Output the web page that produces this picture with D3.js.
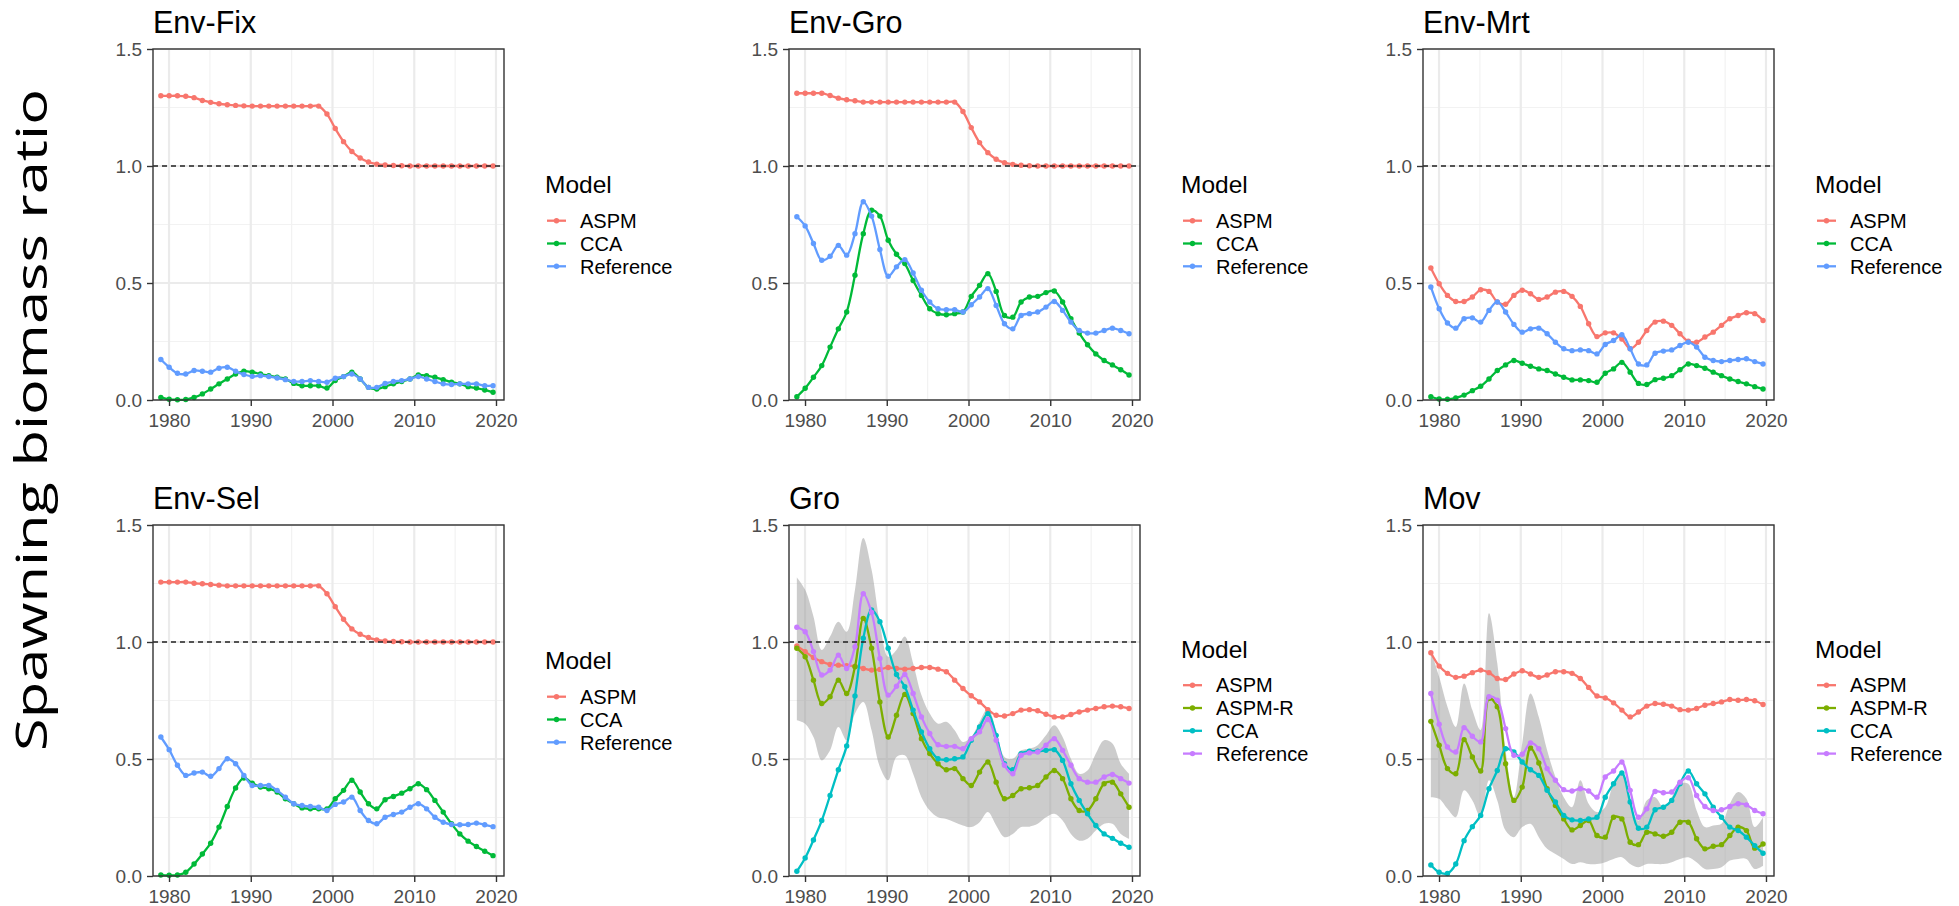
<!DOCTYPE html>
<html>
<head>
<meta charset="utf-8">
<script src="https://cdn.jsdelivr.net/npm/d3@7"></script>
<style>
    body { margin: 0; background: #fff; }
    svg { display: block; }
    .tick-label { font-family: 'Liberation Sans', Arial, sans-serif; font-size: 19px; fill: #4D4D4D; }
    .panel-title { font-family: 'Liberation Sans', Arial, sans-serif; font-size: 30.5px; fill: #000; }
    .legend-title { font-family: 'Liberation Sans', Arial, sans-serif; font-size: 24.5px; fill: #000; }
    .legend-label { font-family: 'Liberation Sans', Arial, sans-serif; font-size: 20px; fill: #000; }
    .y-title { font-family: 'Open Sans', sans-serif; font-size: 44px; fill: #000; }
</style>
</head>
<body>
<div id="chart"></div>
<script>
//Años (41 pasos, el último cae poco antes de 2020) y ejes
const years = d3.range(1979, 2020);
const stepYears = years.map(function(yr, i) { return 1979 + i * 1.016; });
const xTicks = [1980, 1990, 2000, 2010, 2020];
const xMinor = [1985, 1995, 2005, 2015];
const yTicks = [0, 0.5, 1.0, 1.5];
const yMinor = [0.25, 0.75, 1.25];

//Env-Fix
const envFixASPM = [1.300,1.300,1.300,1.298,1.292,1.280,1.272,1.266,1.262,1.259,
    1.257,1.256,1.256,1.256,1.256,1.256,1.256,1.256,1.256,1.256,
    1.222,1.160,1.104,1.062,1.034,1.017,1.008,1.004,1.002,1.001,
    1.000,1.000,1.000,1.000,1.000,1.000,1.000,1.000,1.000,1.000,1.000];
const envFixCCA = [0.011,0.003,0.001,0.002,0.011,0.026,0.047,0.069,0.090,0.111,
    0.123,0.119,0.111,0.104,0.097,0.090,0.071,0.061,0.061,0.061,
    0.051,0.083,0.100,0.119,0.090,0.054,0.047,0.057,0.069,0.079,
    0.090,0.107,0.104,0.097,0.087,0.076,0.069,0.057,0.051,0.043,0.033];
const envFixRef = [0.173,0.140,0.114,0.111,0.126,0.123,0.119,0.136,0.140,0.123,
    0.109,0.101,0.104,0.100,0.094,0.087,0.079,0.079,0.083,0.079,
    0.076,0.093,0.100,0.111,0.090,0.054,0.054,0.071,0.079,0.083,
    0.090,0.100,0.090,0.079,0.069,0.066,0.069,0.069,0.069,0.061,0.061];

//Env-Gro
const envGroASPM = [1.311,1.311,1.311,1.311,1.301,1.290,1.283,1.279,1.273,1.273,
    1.273,1.273,1.273,1.273,1.273,1.273,1.273,1.273,1.273,1.273,
    1.233,1.164,1.100,1.057,1.029,1.014,1.007,1.003,1.001,1.000,
    1.000,1.000,1.000,1.000,1.000,1.000,1.000,1.000,1.000,1.000,1.000];
const envGroCCA = [0.014,0.050,0.097,0.147,0.226,0.304,0.376,0.533,0.711,0.811,
    0.786,0.683,0.623,0.583,0.511,0.447,0.390,0.369,0.364,0.369,
    0.376,0.443,0.490,0.540,0.464,0.361,0.354,0.419,0.440,0.443,
    0.459,0.466,0.419,0.347,0.286,0.236,0.197,0.169,0.150,0.129,0.107];
const envGroRef = [0.783,0.744,0.669,0.597,0.614,0.661,0.619,0.711,0.847,0.786,
    0.643,0.529,0.569,0.600,0.543,0.469,0.419,0.390,0.386,0.386,
    0.376,0.407,0.440,0.476,0.404,0.326,0.304,0.361,0.369,0.376,
    0.397,0.421,0.383,0.333,0.297,0.286,0.286,0.297,0.307,0.297,0.283];

//Env-Mrt
const envMrtASPM = [0.564,0.497,0.447,0.421,0.421,0.440,0.471,0.464,0.419,0.409,
    0.447,0.469,0.454,0.430,0.440,0.461,0.464,0.443,0.400,0.326,
    0.271,0.287,0.287,0.261,0.219,0.247,0.297,0.333,0.337,0.319,
    0.283,0.251,0.247,0.269,0.290,0.319,0.347,0.361,0.373,0.369,0.340];
const envMrtCCA = [0.014,0.004,0.003,0.009,0.021,0.040,0.059,0.090,0.126,0.150,
    0.169,0.157,0.144,0.133,0.126,0.111,0.097,0.086,0.086,0.083,
    0.076,0.114,0.133,0.161,0.119,0.071,0.066,0.087,0.093,0.104,
    0.129,0.154,0.147,0.136,0.119,0.104,0.090,0.079,0.069,0.057,0.047];
const envMrtRef = [0.483,0.390,0.329,0.307,0.347,0.351,0.333,0.383,0.419,0.376,
    0.323,0.290,0.304,0.307,0.283,0.247,0.219,0.211,0.214,0.211,
    0.197,0.237,0.254,0.279,0.219,0.154,0.150,0.200,0.209,0.214,
    0.233,0.247,0.226,0.183,0.169,0.164,0.169,0.173,0.176,0.164,0.154];

//Env-Sel
const envSelASPM = [1.256,1.256,1.256,1.256,1.251,1.249,1.246,1.243,1.240,1.240,
    1.240,1.240,1.240,1.240,1.240,1.240,1.240,1.240,1.240,1.240,
    1.206,1.151,1.097,1.056,1.033,1.019,1.009,1.004,1.002,1.001,
    1.000,1.000,1.000,1.000,1.000,1.000,1.000,1.000,1.000,1.000,1.000];
const envSelCCA = [0.004,0.003,0.004,0.016,0.051,0.094,0.140,0.209,0.297,0.376,
    0.419,0.397,0.380,0.373,0.359,0.330,0.309,0.291,0.287,0.287,
    0.287,0.330,0.366,0.409,0.359,0.309,0.287,0.326,0.340,0.354,
    0.373,0.394,0.369,0.323,0.273,0.223,0.180,0.149,0.126,0.106,0.087];
const envSelRef = [0.594,0.540,0.473,0.430,0.440,0.444,0.426,0.459,0.501,0.480,
    0.430,0.387,0.387,0.387,0.366,0.337,0.309,0.301,0.297,0.294,
    0.280,0.306,0.316,0.337,0.280,0.237,0.223,0.251,0.263,0.273,
    0.294,0.309,0.287,0.251,0.230,0.220,0.219,0.220,0.226,0.219,0.211];

//Gro
const groASPM = [0.983,0.959,0.934,0.916,0.904,0.901,0.899,0.897,0.887,0.880,
    0.883,0.891,0.887,0.884,0.887,0.891,0.891,0.884,0.873,0.837,
    0.801,0.770,0.744,0.711,0.687,0.684,0.694,0.709,0.711,0.706,
    0.691,0.680,0.680,0.690,0.701,0.709,0.716,0.723,0.726,0.723,0.716];
const groASPMR = [0.973,0.937,0.837,0.737,0.766,0.837,0.780,0.894,1.101,0.973,
    0.744,0.594,0.687,0.776,0.694,0.587,0.523,0.480,0.454,0.459,
    0.416,0.387,0.444,0.487,0.401,0.330,0.344,0.373,0.377,0.387,
    0.423,0.451,0.416,0.330,0.280,0.280,0.330,0.394,0.401,0.351,0.294];
const groCCA = [0.020,0.077,0.154,0.237,0.344,0.454,0.556,0.769,1.016,1.137,
    1.087,0.973,0.861,0.809,0.709,0.616,0.544,0.501,0.497,0.501,
    0.509,0.580,0.637,0.694,0.601,0.480,0.454,0.523,0.533,0.533,
    0.537,0.540,0.494,0.394,0.323,0.266,0.216,0.180,0.161,0.140,0.123];
const groRef = [1.063,1.044,0.959,0.859,0.880,0.944,0.887,0.980,1.206,1.126,
    0.930,0.773,0.811,0.861,0.780,0.680,0.609,0.561,0.554,0.554,
    0.544,0.587,0.616,0.669,0.580,0.473,0.437,0.516,0.526,0.530,
    0.559,0.587,0.537,0.473,0.416,0.401,0.401,0.423,0.434,0.416,0.397];
const groLower = [0.666,0.651,0.594,0.494,0.537,0.637,0.580,0.694,0.744,0.623,
    0.466,0.409,0.509,0.516,0.437,0.337,0.280,0.251,0.244,0.230,
    0.216,0.209,0.230,0.273,0.216,0.166,0.180,0.209,0.211,0.223,
    0.251,0.266,0.237,0.180,0.151,0.159,0.194,0.223,0.223,0.180,0.159];
const groUpper = [1.276,1.223,1.109,0.966,1.023,1.087,1.044,1.223,1.444,1.309,
    1.080,0.937,0.966,1.023,0.909,0.773,0.694,0.651,0.659,0.623,
    0.573,0.594,0.659,0.716,0.623,0.509,0.501,0.537,0.544,0.559,
    0.601,0.644,0.594,0.501,0.437,0.451,0.523,0.580,0.566,0.480,0.437];

//Mov
const movASPM = [0.954,0.897,0.866,0.849,0.854,0.869,0.880,0.869,0.844,0.840,
    0.863,0.877,0.863,0.849,0.859,0.873,0.873,0.866,0.844,0.806,
    0.769,0.761,0.740,0.709,0.680,0.701,0.726,0.737,0.734,0.726,
    0.711,0.709,0.716,0.730,0.737,0.744,0.754,0.751,0.754,0.749,0.733];
const movASPMR = [0.661,0.559,0.459,0.437,0.583,0.509,0.449,0.759,0.723,0.480,
    0.323,0.380,0.547,0.483,0.373,0.301,0.244,0.197,0.216,0.237,
    0.173,0.166,0.251,0.244,0.144,0.134,0.187,0.180,0.170,0.187,
    0.230,0.230,0.159,0.116,0.127,0.134,0.173,0.209,0.194,0.119,0.137];
const movCCA = [0.047,0.016,0.011,0.051,0.151,0.211,0.259,0.373,0.451,0.544,
    0.530,0.487,0.454,0.430,0.366,0.316,0.259,0.240,0.237,0.244,
    0.251,0.337,0.394,0.440,0.316,0.204,0.209,0.283,0.294,0.323,
    0.394,0.449,0.394,0.351,0.294,0.251,0.209,0.194,0.166,0.130,0.097];
const movRef = [0.780,0.649,0.551,0.530,0.634,0.597,0.573,0.766,0.751,0.630,
    0.516,0.520,0.569,0.544,0.459,0.409,0.369,0.363,0.373,0.363,
    0.337,0.423,0.449,0.487,0.366,0.251,0.287,0.361,0.356,0.359,
    0.401,0.420,0.344,0.297,0.280,0.283,0.297,0.309,0.304,0.280,0.266];
const movLower = [0.337,0.330,0.287,0.251,0.366,0.323,0.251,0.409,0.323,0.194,
    0.166,0.209,0.223,0.166,0.116,0.094,0.073,0.051,0.059,0.051,
    0.051,0.059,0.073,0.080,0.051,0.037,0.051,0.051,0.051,0.059,
    0.073,0.080,0.059,0.030,0.030,0.037,0.066,0.073,0.073,0.030,0.044];
const movUpper = [0.966,0.851,0.723,0.637,0.823,0.709,0.623,1.123,0.909,0.537,
    0.337,0.566,0.780,0.680,0.537,0.423,0.337,0.294,0.409,0.309,
    0.273,0.294,0.394,0.437,0.309,0.237,0.323,0.337,0.294,0.337,
    0.394,0.394,0.280,0.209,0.216,0.223,0.309,0.359,0.330,0.209,0.251];

//Colores (paleta ggplot)
const colors3 = {'ASPM': '#F8766D', 'CCA': '#00BA38', 'Reference': '#619CFF'};
const colors4 = {'ASPM': '#F8766D', 'ASPM-R': '#7CAE00', 'CCA': '#00BFC4', 'Reference': '#C77CFF'};

let panels = [
    {title: 'Env-Fix', col: 0, row: 0, colors: colors3, series: [['ASPM', envFixASPM], ['CCA', envFixCCA], ['Reference', envFixRef]]},
    {title: 'Env-Gro', col: 1, row: 0, colors: colors3, series: [['ASPM', envGroASPM], ['CCA', envGroCCA], ['Reference', envGroRef]]},
    {title: 'Env-Mrt', col: 2, row: 0, colors: colors3, series: [['ASPM', envMrtASPM], ['CCA', envMrtCCA], ['Reference', envMrtRef]]},
    {title: 'Env-Sel', col: 0, row: 1, colors: colors3, series: [['ASPM', envSelASPM], ['CCA', envSelCCA], ['Reference', envSelRef]]},
    {title: 'Gro', col: 1, row: 1, colors: colors4, ribbon: [groLower, groUpper], series: [['ASPM', groASPM], ['ASPM-R', groASPMR], ['CCA', groCCA], ['Reference', groRef]]},
    {title: 'Mov', col: 2, row: 1, colors: colors4, ribbon: [movLower, movUpper], series: [['ASPM', movASPM], ['ASPM-R', movASPMR], ['CCA', movCCA], ['Reference', movRef]]}
];

//Dimensiones
let W = 1959, H = 906;
let colLeft = [153, 789, 1423],
    rowTop = [49, 525],
    pw = 351, ph = 351;

let svg = d3.select('#chart')
    .append('svg')
        .attr('width', W)
        .attr('height', H);

let x = d3.scaleLinear().domain([1978.04, 2020.98]).range([0, pw]);
let y = d3.scaleLinear().domain([0, 1.5]).range([ph, 0]);
let curve = d3.curveCatmullRom.alpha(0.5);

//Título eje y común
svg.append('text')
    .attr('class', 'y-title')
    .attr('transform', 'translate(47,420) rotate(-90)')
    .attr('text-anchor', 'middle')
    .attr('textLength', 662)
    .attr('lengthAdjust', 'spacingAndGlyphs')
    .text('Spawning biomass ratio');

panels.forEach(function(p) {
    let g = svg.append('g')
        .attr('transform', 'translate(' + colLeft[p.col] + ',' + rowTop[p.row] + ')');

    //Rejilla
    g.selectAll('.minor-y').data(yMinor).enter().append('line')
        .attr('x1', 0).attr('x2', pw)
        .attr('y1', function(d) { return y(d); }).attr('y2', function(d) { return y(d); })
        .attr('stroke', '#F2F2F2').attr('stroke-width', 1.2);
    g.selectAll('.minor-x').data(xMinor).enter().append('line')
        .attr('y1', 0).attr('y2', ph)
        .attr('x1', function(d) { return x(d); }).attr('x2', function(d) { return x(d); })
        .attr('stroke', '#F2F2F2').attr('stroke-width', 1.2);
    g.selectAll('.major-y').data(yTicks).enter().append('line')
        .attr('x1', 0).attr('x2', pw)
        .attr('y1', function(d) { return y(d); }).attr('y2', function(d) { return y(d); })
        .attr('stroke', '#EBEBEB').attr('stroke-width', 2.2);
    g.selectAll('.major-x').data(xTicks).enter().append('line')
        .attr('y1', 0).attr('y2', ph)
        .attr('x1', function(d) { return x(d); }).attr('x2', function(d) { return x(d); })
        .attr('stroke', '#EBEBEB').attr('stroke-width', 2.2);

    //Banda de confianza
    if (p.ribbon) {
        let area = d3.area()
            .x(function(d, i) { return x(stepYears[i]); })
            .y0(function(d, i) { return y(p.ribbon[0][i]); })
            .y1(function(d, i) { return y(p.ribbon[1][i]); })
            .curve(curve);
        g.append('path')
            .datum(years)
            .attr('d', area)
            .attr('fill', '#999999')
            .attr('fill-opacity', 0.5);
    }

    //Líneas y puntos
    let line = d3.line()
        .x(function(d, i) { return x(stepYears[i]); })
        .y(function(d) { return y(d); })
        .curve(curve);

    p.series.forEach(function(s) {
        let color = p.colors[s[0]];
        g.append('path')
            .datum(s[1])
            .attr('d', line)
            .attr('fill', 'none')
            .attr('stroke', color)
            .attr('stroke-width', 2.3);
        g.append('g').selectAll('circle')
            .data(s[1])
            .enter()
            .append('circle')
            .attr('cx', function(d, i) { return x(stepYears[i]); })
            .attr('cy', function(d) { return y(d); })
            .attr('r', 2.7)
            .attr('fill', color);
    });

    //Línea de referencia en 1
    g.append('line')
        .attr('x1', 0).attr('x2', pw)
        .attr('y1', y(1)).attr('y2', y(1))
        .attr('stroke', '#222')
        .attr('stroke-width', 1.6)
        .attr('stroke-dasharray', '5,4');

    //Borde del panel
    g.append('rect')
        .attr('width', pw).attr('height', ph)
        .attr('fill', 'none')
        .attr('stroke', '#333333')
        .attr('stroke-width', 1.4);

    //Ejes
    let yAxis = g.append('g')
        .call(d3.axisLeft(y).tickValues(yTicks).tickFormat(d3.format('.1f')).tickSize(6).tickPadding(5));
    let xAxis = g.append('g')
        .attr('transform', 'translate(0,' + ph + ')')
        .call(d3.axisBottom(x).tickValues(xTicks).tickFormat(d3.format('d')).tickSize(6).tickPadding(4));
    [xAxis, yAxis].forEach(function(a) {
        a.select('.domain').remove();
        a.selectAll('.tick line').attr('stroke', '#333333').attr('stroke-width', 1.4);
        a.selectAll('.tick text').attr('class', 'tick-label').attr('fill', null);
    });
    xAxis.selectAll('.tick text').attr('dy', '0.92em');

    //Título del panel
    g.append('text')
        .attr('class', 'panel-title')
        .attr('x', 0)
        .attr('y', -16)
        .text(p.title);

    //Leyenda
    let n = p.series.length;
    let lg = g.append('g')
        .attr('transform', 'translate(' + (pw + 41) + ',' + (ph / 2 - 11.5 * (n - 1) - 8.5) + ')');
    lg.append('text')
        .attr('class', 'legend-title')
        .attr('x', 0)
        .attr('y', 0)
        .text('Model');
    p.series.forEach(function(s, i) {
        let cy = 27.7 + i * 22.8;
        lg.append('line')
            .attr('x1', 2).attr('x2', 21)
            .attr('y1', cy).attr('y2', cy)
            .attr('stroke', p.colors[s[0]])
            .attr('stroke-width', 2.3);
        lg.append('circle')
            .attr('cx', 11.5).attr('cy', cy)
            .attr('r', 2.7)
            .attr('fill', p.colors[s[0]]);
        lg.append('text')
            .attr('class', 'legend-label')
            .attr('x', 35)
            .attr('y', cy)
            .attr('dy', '0.36em')
            .text(s[0]);
    });
});
</script>
</body>
</html>
